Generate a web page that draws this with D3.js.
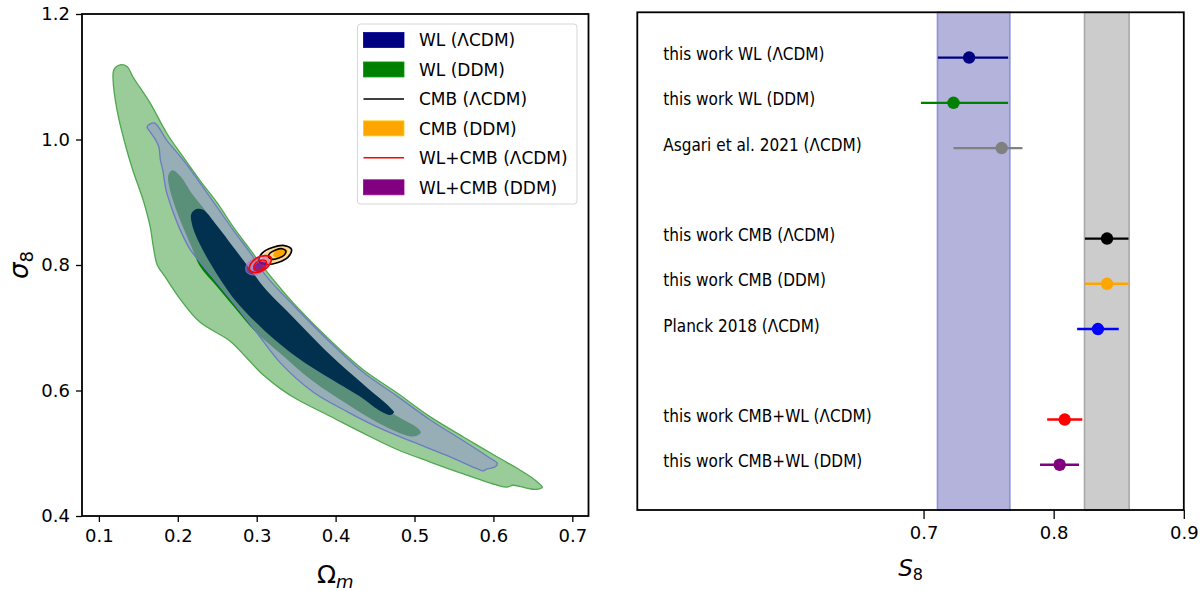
<!DOCTYPE html>
<html><head><meta charset="utf-8">
<script src="https://cdn.jsdelivr.net/npm/d3@7"></script>
<style>
body{margin:0;background:#fff}
svg{display:block}
text{font-family:"DejaVu Sans",sans-serif;fill:#000}
</style>
</head><body>
<svg id="c" width="1200" height="591"></svg>
<script>
// ---------------- LEFT PANEL DATA (Omega_m, sigma_8) ----------------
const leftXTicks = [0.1,0.2,0.3,0.4,0.5,0.6,0.7];
const leftYTicks = [0.4,0.6,0.8,1.0,1.2];

const wlDdm95 = [[0.127,1.119],[0.136,1.116],[0.143,1.100],[0.165,1.058],[0.186,1.010],[0.207,0.972],[0.228,0.935],[0.250,0.899],[0.270,0.861],[0.292,0.824],[0.308,0.797],[0.330,0.763],[0.351,0.733],[0.393,0.680],[0.435,0.633],[0.478,0.596],[0.520,0.558],[0.562,0.526],[0.605,0.494],[0.634,0.473],[0.653,0.457],[0.662,0.446],[0.657,0.443],[0.647,0.443],[0.625,0.449],[0.617,0.446],[0.605,0.449],[0.562,0.467],[0.520,0.486],[0.478,0.506],[0.435,0.532],[0.393,0.559],[0.351,0.586],[0.330,0.603],[0.308,0.625],[0.288,0.651],[0.266,0.679],[0.228,0.709],[0.204,0.744],[0.184,0.781],[0.174,0.800],[0.169,0.829],[0.165,0.861],[0.156,0.904],[0.143,0.951],[0.133,0.994],[0.123,1.047],[0.118,1.095],[0.119,1.111]];

const wlDdm68 = [[0.193,0.951],[0.203,0.942],[0.219,0.912],[0.237,0.883],[0.246,0.859],[0.266,0.826],[0.288,0.789],[0.309,0.752],[0.346,0.706],[0.388,0.653],[0.431,0.604],[0.463,0.571],[0.478,0.559],[0.503,0.541],[0.508,0.533],[0.503,0.528],[0.494,0.527],[0.456,0.547],[0.415,0.578],[0.371,0.615],[0.330,0.659],[0.298,0.694],[0.270,0.735],[0.250,0.765],[0.228,0.798],[0.218,0.827],[0.208,0.856],[0.198,0.888],[0.190,0.920],[0.188,0.943]];

const wlLcdm95 = [[0.165,1.025],[0.171,1.026],[0.186,0.999],[0.207,0.967],[0.228,0.931],[0.250,0.892],[0.270,0.856],[0.292,0.819],[0.313,0.781],[0.351,0.730],[0.393,0.677],[0.435,0.629],[0.478,0.591],[0.520,0.553],[0.562,0.520],[0.596,0.492],[0.605,0.484],[0.602,0.478],[0.592,0.475],[0.587,0.472],[0.580,0.475],[0.540,0.497],[0.498,0.518],[0.456,0.540],[0.415,0.566],[0.371,0.598],[0.330,0.644],[0.299,0.694],[0.273,0.736],[0.230,0.802],[0.216,0.824],[0.203,0.856],[0.193,0.888],[0.185,0.920],[0.181,0.951],[0.178,0.967],[0.176,0.988],[0.172,0.999],[0.165,1.012],[0.161,1.020]];

const wlLcdm68 = [[0.223,0.889],[0.232,0.888],[0.250,0.862],[0.270,0.829],[0.292,0.793],[0.313,0.759],[0.339,0.726],[0.393,0.657],[0.435,0.610],[0.469,0.573],[0.474,0.565],[0.469,0.561],[0.460,0.565],[0.453,0.570],[0.435,0.587],[0.393,0.619],[0.351,0.653],[0.311,0.694],[0.274,0.742],[0.256,0.773],[0.241,0.803],[0.228,0.833],[0.219,0.860],[0.217,0.881]];

const cmbDdm95 = [[0.343,0.825],[0.340,0.815],[0.328,0.806],[0.315,0.803],[0.307,0.809],[0.310,0.819],[0.322,0.828],[0.335,0.831]];
const cmbDdm68 = [[0.339,0.823],[0.337,0.818],[0.331,0.813],[0.324,0.812],[0.321,0.815],[0.322,0.820],[0.328,0.825],[0.335,0.826]];
const cmbLcdm95 = [[0.344,0.825],[0.340,0.813],[0.327,0.804],[0.312,0.801],[0.303,0.807],[0.307,0.819],[0.320,0.828],[0.335,0.831]];
const cmbLcdm68 = [[0.337,0.822],[0.335,0.816],[0.328,0.811],[0.320,0.809],[0.315,0.813],[0.317,0.819],[0.324,0.824],[0.332,0.826]];
const wlcmbDdm95 = [[0.315,0.810],[0.315,0.799],[0.306,0.788],[0.295,0.784],[0.287,0.789],[0.287,0.800],[0.296,0.810],[0.308,0.814]];
const wlcmbDdm68 = [[0.313,0.804],[0.312,0.797],[0.307,0.791],[0.301,0.789],[0.296,0.792],[0.296,0.798],[0.302,0.804],[0.308,0.806]];
const wlcmbLcdm95 = [[0.318,0.812],[0.317,0.802],[0.309,0.792],[0.298,0.788],[0.291,0.792],[0.292,0.801],[0.300,0.811],[0.311,0.815]];
const wlcmbLcdm68 = [[0.312,0.806],[0.312,0.800],[0.307,0.794],[0.301,0.792],[0.297,0.794],[0.297,0.800],[0.302,0.806],[0.308,0.808]];

const legendLabels = ["WL (ΛCDM)","WL (DDM)","CMB (ΛCDM)","CMB (DDM)","WL+CMB (ΛCDM)","WL+CMB (DDM)"];
const legendColors = ["#000080","#008000","#000000","#ffa500","#ff0000","#800080"];
const legendKinds  = ["patch","patch","line","patch","line","patch"];

// ---------------- RIGHT PANEL DATA (S8) ----------------
const s8Labels = ["this work WL (ΛCDM)","this work WL (DDM)","Asgari et al. 2021 (ΛCDM)","this work CMB (ΛCDM)","this work CMB (DDM)","Planck 2018 (ΛCDM)","this work CMB+WL (ΛCDM)","this work CMB+WL (DDM)"];
const s8Rows   = [0,1,2,4,5,6,8,9];
const s8Values = [0.735,0.723,0.760,0.841,0.841,0.834,0.8085,0.8046];
const s8Lo     = [0.711,0.698,0.723,0.824,0.824,0.818,0.795,0.7895];
const s8Hi     = [0.765,0.765,0.776,0.8575,0.8575,0.850,0.822,0.8195];
const s8Colors = ["#000080","#008000","#808080","#000000","#ffa500","#0000ff","#ff0000","#800080"];
const wlBand  = [0.7107,0.7663];
const cmbBand = [0.8237,0.858];
const rightXTicks = [0.7,0.8,0.9];

// ---------------- DRAW ----------------
const svg = d3.select("#c");

// Left scales
const xL = d3.scaleLinear().domain([0.0786,0.7205]).range([82,588.5]);
const yL = d3.scaleLinear().domain([0.4,1.2]).range([516,14]);

svg.append("defs").append("clipPath").attr("id","clipL")
  .append("rect").attr("x",xL.range()[0]).attr("y",yL.range()[1])
  .attr("width",xL.range()[1]-xL.range()[0]).attr("height",yL.range()[0]-yL.range()[1]);

const gL = svg.append("g").attr("clip-path","url(#clipL)");
const shape = d3.line().x(d=>xL(d[0])).y(d=>yL(d[1])).curve(d3.curveCatmullRomClosed.alpha(0.5));

gL.append("path").attr("d",shape(wlDdm95)).attr("fill","#99cc99").attr("stroke","#4fa84f").attr("stroke-width",1.3);
gL.append("path").attr("d",shape(wlDdm68)).attr("fill","#008000");
gL.append("path").attr("d",shape(wlLcdm95)).attr("fill","rgb(150,153,203)").attr("fill-opacity",0.6).attr("stroke","#6b7cc0").attr("stroke-width",1.3);
gL.append("path").attr("d",shape(wlLcdm68)).attr("fill","#02304f");

gL.append("path").attr("d",shape(cmbDdm95)).attr("fill","#ffd88f");
gL.append("path").attr("d",shape(cmbDdm68)).attr("fill","#ffa500");
gL.append("path").attr("d",shape(cmbLcdm95)).attr("fill","none").attr("stroke","#000").attr("stroke-width",1.7);
gL.append("path").attr("d",shape(cmbLcdm68)).attr("fill","none").attr("stroke","#000").attr("stroke-width",1.6);
gL.append("path").attr("d",shape(wlcmbDdm95)).attr("fill","#b266c8").attr("fill-opacity",0.5).attr("stroke","#b070c0").attr("stroke-width",0.8);
gL.append("path").attr("d",shape(wlcmbDdm68)).attr("fill","#800080").attr("fill-opacity",0.75);
gL.append("path").attr("d",shape(wlcmbLcdm95)).attr("fill","none").attr("stroke","#ff0000").attr("stroke-width",1.7);
gL.append("path").attr("d",shape(wlcmbLcdm68)).attr("fill","none").attr("stroke","#ff0000").attr("stroke-width",1.4);

// Left axes
const axXL = svg.append("g").attr("transform",`translate(0,${yL.range()[0]})`)
  .call(d3.axisBottom(xL).tickValues(leftXTicks).tickFormat(d3.format(".1f")).tickSize(6).tickPadding(7));
const axYL = svg.append("g").attr("transform",`translate(${xL.range()[0]},0)`)
  .call(d3.axisLeft(yL).tickValues(leftYTicks).tickFormat(d3.format(".1f")).tickSize(6).tickPadding(6));
[axXL,axYL].forEach(a=>{
  a.select(".domain").remove();
  a.selectAll(".tick line").attr("stroke","#000").attr("stroke-width",1.3);
  a.selectAll(".tick text").attr("font-size",18).attr("font-family","DejaVu Sans");
});
svg.append("rect").attr("x",xL.range()[0]).attr("y",yL.range()[1])
  .attr("width",xL.range()[1]-xL.range()[0]).attr("height",yL.range()[0]-yL.range()[1])
  .attr("fill","none").attr("stroke","#000").attr("stroke-width",1.8);

// Left axis labels
const xlab = svg.append("text").attr("x",(xL.range()[0]+xL.range()[1])/2).attr("y",583).attr("text-anchor","middle").attr("font-size",25);
xlab.append("tspan").text("Ω");
xlab.append("tspan").text("m").attr("font-style","italic").attr("font-size",18).attr("dy",5);
const ylab = svg.append("text").attr("transform",`translate(28,${(yL.range()[0]+yL.range()[1])/2}) rotate(-90)`).attr("text-anchor","middle").attr("font-size",26);
ylab.append("tspan").text("σ").attr("font-style","italic");
ylab.append("tspan").text("8").attr("font-size",18).attr("dy",5);

// Legend
const lg = svg.append("g");
lg.append("rect").attr("x",357.5).attr("y",24).attr("width",219.5).attr("height",180).attr("rx",3)
  .attr("fill","#fff").attr("fill-opacity",0.8).attr("stroke","#d6d6d6").attr("stroke-width",1);
const legY = d3.scalePoint().domain(d3.range(legendLabels.length)).range([40,187.3]);
legendLabels.forEach((lab,i)=>{
  const cy = legY(i);
  if(legendKinds[i]==="patch"){
    lg.append("rect").attr("x",363.5).attr("y",cy-7.5).attr("width",40.5).attr("height",15)
      .attr("fill",legendColors[i]).attr("stroke",d3.color(legendColors[i]).brighter(0.6)).attr("stroke-width",0.8);
  } else {
    lg.append("line").attr("x1",363.5).attr("x2",404).attr("y1",cy).attr("y2",cy)
      .attr("stroke",legendColors[i]).attr("stroke-width",1.5);
  }
  lg.append("text").attr("x",419).attr("y",cy+6.3).attr("font-size",17).text(lab);
});

// Right scales
const xR = d3.scaleLinear().domain([0.48,0.9]).range([637.3,1183.8]);
const yR = d3.scaleLinear().domain([-1,10]).range([12.3,510]);

svg.append("rect").attr("x",xR(wlBand[0])).attr("y",yR(-1)).attr("width",xR(wlBand[1])-xR(wlBand[0])).attr("height",yR(10)-yR(-1))
  .attr("fill","#b3b3dc").attr("stroke","#8c92d8").attr("stroke-width",1.6);
svg.append("rect").attr("x",xR(cmbBand[0])).attr("y",yR(-1)).attr("width",xR(cmbBand[1])-xR(cmbBand[0])).attr("height",yR(10)-yR(-1))
  .attr("fill","#cccccc").attr("stroke","#a8a8a8").attr("stroke-width",1.6);

const gR = svg.append("g");
s8Labels.forEach((lab,i)=>{
  const cy = yR(s8Rows[i]);
  gR.append("line").attr("x1",xR(s8Lo[i])).attr("x2",xR(s8Hi[i])).attr("y1",cy).attr("y2",cy)
    .attr("stroke",s8Colors[i]).attr("stroke-width",2.3);
  gR.append("circle").attr("cx",xR(s8Values[i])).attr("cy",cy).attr("r",6.2).attr("fill",s8Colors[i]);
  gR.append("text").attr("x",xR(0.5)).attr("y",cy+2.5).attr("font-size",17)
    .attr("font-family","'DejaVu Sans Condensed','DejaVu Sans',sans-serif").attr("font-stretch","condensed").text(lab);
});

const axXR = svg.append("g").attr("transform",`translate(0,${yR.range()[1]})`)
  .call(d3.axisBottom(xR).tickValues(rightXTicks).tickFormat(d3.format(".1f")).tickSize(9).tickPadding(7));
axXR.select(".domain").remove();
axXR.selectAll(".tick line").attr("stroke","#000").attr("stroke-width",1.3);
axXR.selectAll(".tick text").attr("font-size",18).attr("font-family","DejaVu Sans");

svg.append("rect").attr("x",xR.range()[0]).attr("y",yR.range()[0])
  .attr("width",xR.range()[1]-xR.range()[0]).attr("height",yR.range()[1]-yR.range()[0])
  .attr("fill","none").attr("stroke","#000").attr("stroke-width",1.8);

const s8lab = svg.append("text").attr("x",(xR.range()[0]+xR.range()[1])/2).attr("y",576).attr("text-anchor","middle").attr("font-size",23);
s8lab.append("tspan").text("S").attr("font-style","italic");
s8lab.append("tspan").text("8").attr("font-size",16).attr("dy",4);
</script>
</body></html>
